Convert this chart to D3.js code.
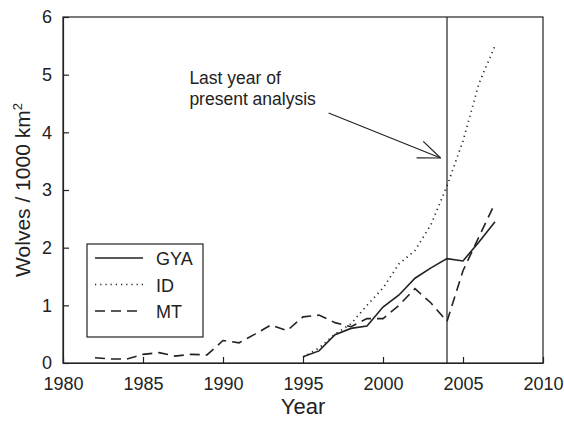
<!DOCTYPE html>
<html>
<head>
<meta charset="utf-8">
<script src="https://cdn.jsdelivr.net/npm/d3@7"></script>
<style>
  body { margin: 0; background: #fff; }
  svg text { font-family: Arial, "Liberation Sans", sans-serif; fill: #222; }
</style>
</head>
<body>
<svg id="chart"></svg>
<script>
// data
const gyaYears = [1995, 1996, 1997, 1998, 1999, 2000, 2001, 2002, 2003, 2004, 2005, 2006, 2007];
const gyaValues = [0.11, 0.21, 0.49, 0.6, 0.64, 0.97, 1.18, 1.47, 1.65, 1.81, 1.77, 2.1, 2.45];
const idYears = [1995, 1996, 1997, 1998, 1999, 2000, 2001, 2002, 2003, 2004, 2005, 2006, 2007];
const idValues = [0.1, 0.26, 0.5, 0.68, 1.0, 1.3, 1.72, 1.95, 2.4, 3.07, 3.85, 4.85, 5.5];
const mtYears = [1982, 1983, 1984, 1985, 1986, 1987, 1988, 1989, 1990, 1991, 1992, 1993, 1994, 1995, 1996, 1997, 1998, 1999, 2000, 2001, 2002, 2003, 2004, 2005, 2006, 2007];
const mtValues = [0.09, 0.07, 0.07, 0.15, 0.18, 0.12, 0.15, 0.14, 0.39, 0.35, 0.5, 0.66, 0.56, 0.8, 0.83, 0.7, 0.63, 0.77, 0.77, 1.0, 1.29, 1.04, 0.72, 1.6, 2.19, 2.77];
const xTicks = [1980, 1985, 1990, 1995, 2000, 2005, 2010];
const yTicks = [0, 1, 2, 3, 4, 5, 6];
const cutoffYear = 2004;

const config = {
  width: 564, height: 432,
  margin: { top: 17, right: 21, bottom: 69, left: 63 }
};

const svg = d3.select('#chart')
  .attr('width', config.width)
  .attr('height', config.height);

const innerW = config.width - config.margin.left - config.margin.right;
const innerH = config.height - config.margin.top - config.margin.bottom;

const chart = svg.append('g')
  .attr('transform', `translate(${config.margin.left},${config.margin.top})`);

const x = d3.scaleLinear().domain([1980, 2010]).range([0, innerW]);
const y = d3.scaleLinear().domain([0, 6]).range([innerH, 0]);

const ink = '#222';

// frame
chart.append('rect')
  .attr('width', innerW).attr('height', innerH)
  .attr('fill', 'none').attr('stroke', ink).attr('stroke-width', 1.2);

// axes, ticks point inward
const xAxis = d3.axisBottom(x).tickValues(xTicks).tickFormat(d3.format('d'))
  .tickSizeInner(-6).tickSizeOuter(0).tickPadding(14);
const yAxis = d3.axisLeft(y).tickValues(yTicks).tickFormat(d3.format('d'))
  .tickSizeInner(-6).tickSizeOuter(0).tickPadding(11);

const xG = chart.append('g').attr('transform', `translate(0,${innerH})`).call(xAxis);
const yG = chart.append('g').call(yAxis);
[xG, yG].forEach(g => {
  g.select('.domain').attr('stroke', ink).attr('stroke-width', 1.2);
  g.selectAll('.tick line').attr('stroke', ink).attr('stroke-width', 1.2);
  g.selectAll('.tick text').style('font-size', '18px').attr('fill', ink);
});

// axis titles
chart.append('text')
  .attr('x', innerW / 2).attr('y', innerH + 51)
  .attr('text-anchor', 'middle')
  .style('font-size', '22px')
  .text('Year');

const yLab = svg.append('text')
  .attr('transform', `translate(30,${config.margin.top + innerH / 2}) rotate(-90)`)
  .attr('text-anchor', 'middle')
  .style('font-size', '21px');
yLab.append('tspan').text('Wolves / 1000 km');
yLab.append('tspan').attr('dy', -8).style('font-size', '13px').text('2');

// cutoff line
chart.append('line')
  .attr('x1', x(cutoffYear)).attr('x2', x(cutoffYear))
  .attr('y1', 0).attr('y2', innerH)
  .attr('stroke', ink).attr('stroke-width', 1.2);

// series
const line = d3.line().x(d => x(d[0])).y(d => y(d[1]));
const series = [
  { name: 'GYA', years: gyaYears, values: gyaValues, dash: null, width: 1.6 },
  { name: 'ID', years: idYears, values: idValues, dash: '1.2,4', width: 1.7 },
  { name: 'MT', years: mtYears, values: mtValues, dash: '10,6', width: 1.6 }
];

series.forEach(s => {
  chart.append('path')
    .datum(d3.zip(s.years, s.values))
    .attr('d', line)
    .attr('fill', 'none')
    .attr('stroke', ink)
    .attr('stroke-width', s.width)
    .attr('stroke-dasharray', s.dash);
});

// annotation
const note = chart.append('text')
  .attr('x', x(1987.9)).attr('y', 67)
  .style('font-size', '17.5px');
note.append('tspan').text('Last year of');
note.append('tspan').attr('x', x(1987.9)).attr('dy', 21).text('present analysis');

const ax1 = x(1996.6), ay1 = 96, ax2 = x(2003.6), ay2 = 141;
chart.append('line')
  .attr('x1', ax1).attr('y1', ay1).attr('x2', ax2).attr('y2', ay2)
  .attr('stroke', ink).attr('stroke-width', 1.2);
const ang = Math.atan2(ay2 - ay1, ax2 - ax1);
[0.38, -0.38].forEach(a => {
  chart.append('line')
    .attr('x1', ax2).attr('y1', ay2)
    .attr('x2', ax2 - 24 * Math.cos(ang + a))
    .attr('y2', ay2 - 24 * Math.sin(ang + a))
    .attr('stroke', ink).attr('stroke-width', 1.2);
});

// legend
const legend = svg.append('g').attr('transform', 'translate(87,244)');
legend.append('rect')
  .attr('width', 116).attr('height', 93)
  .attr('fill', '#fff').attr('stroke', ink).attr('stroke-width', 1.2);
series.forEach((s, i) => {
  const ly = 14 + i * 26.5;
  legend.append('line')
    .attr('x1', 8).attr('x2', 56).attr('y1', ly).attr('y2', ly)
    .attr('stroke', ink).attr('stroke-width', s.width)
    .attr('stroke-dasharray', s.dash);
  legend.append('text')
    .attr('x', 69).attr('y', ly + 7)
    .style('font-size', '18px')
    .text(s.name);
});
</script>
</body>
</html>
